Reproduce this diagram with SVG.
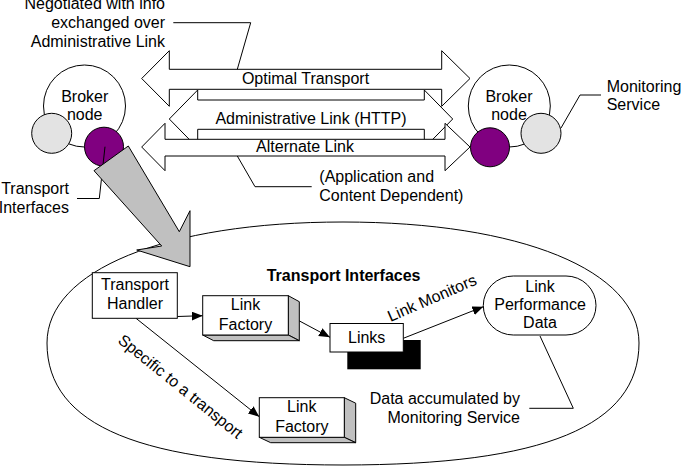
<svg xmlns="http://www.w3.org/2000/svg" width="682" height="470" viewBox="0 0 682 470">
<defs>
<style>
text{font-family:"Liberation Sans",Arial,sans-serif;font-size:16px;fill:#000}
.m{text-anchor:middle}
.e{text-anchor:end}
.b{font-weight:bold}
.ln{fill:none;stroke:#000;stroke-width:1}
.wf{fill:#fff;stroke:#000;stroke-width:1}
.gf{fill:#c0c0c0;stroke:#000;stroke-width:1}
.lg{fill:#e3e3e3;stroke:#000;stroke-width:1}
.pp{fill:#800080;stroke:#000;stroke-width:1}
</style>
<marker id="ah" markerUnits="userSpaceOnUse" markerWidth="12" markerHeight="10" refX="11" refY="4.5" orient="auto">
<path d="M0,0 L11,4.5 L0,9 Z" fill="#000"/>
</marker>
</defs>
<rect width="682" height="470" fill="#fff"/>

<g id="scope-ellipse">
<path class="ln" d="M639,343 C639,426 544.3,465 343,465 C141.7,465 47,426 47,343 C47,270.4 165.4,222 343,222 C520.6,222 639,270.4 639,343 Z"/>
</g>

<g id="double-arrows">
<g id="optimal-transport">
<path class="wf" d="M141.7,78.5 L169.3,50.7 L169.3,69.3 L441.7,69.3 L441.7,50.7 L470,78.5 L441.7,106.3 L441.7,89.3 L169.3,89.3 L169.3,106.3 Z"/>
<text class="m" x="305.5" y="84">Optimal Transport</text>
</g>
<g id="admin-link">
<path class="wf" d="M169.3,119 L197.7,90 L197.7,100 L424.3,100 L424.3,90 L452.7,119 L424.3,148 L424.3,129.3 L197.7,129.3 L197.7,148 Z"/>
<text class="m" x="311" y="124">Administrative Link (HTTP)</text>
</g>
<g id="alternate-link">
<path class="wf" d="M141.7,147 L165,123.3 L165,139.3 L445,139.3 L445,123.3 L470,147 L445,170.7 L445,156 L165,156 L165,170.7 Z"/>
<text class="m" x="305" y="152.3">Alternate Link</text>
</g>
</g>

<g id="broker-left">
<circle cx="84.5" cy="106" r="41" class="wf"/>
<text class="m" x="84.7" y="101.7">Broker</text>
<text class="m" x="84.7" y="120">node</text>
<circle cx="51.7" cy="133.3" r="20" class="lg"/>
<circle cx="104" cy="146.7" r="19.5" class="pp"/>
</g>

<g id="broker-right">
<circle cx="509.3" cy="106" r="41" class="wf"/>
<text class="m" x="509" y="101.7">Broker</text>
<text class="m" x="509" y="120">node</text>
<circle cx="490" cy="147.3" r="19.5" class="pp"/>
<circle cx="541" cy="133.3" r="20" class="lg"/>
</g>

<g id="labels">
<text class="e" x="165" y="8.5">Negotiated with info</text>
<text class="e" x="165" y="27.5">exchanged over</text>
<text class="e" x="165" y="46.7">Administrative Link</text>
<text x="319.3" y="181.7">(Application and</text>
<text x="319.3" y="201">Content Dependent)</text>
<text x="606.7" y="91.7">Monitoring</text>
<text x="606.7" y="110">Service</text>
<text class="e" x="69" y="194.3">Transport</text>
<text class="e" x="69" y="213.3">Interfaces</text>
<text class="b" x="266.7" y="280.7">Transport Interfaces</text>
<text class="e" x="520" y="404">Data accumulated by</text>
<text class="e" x="520" y="422.7">Monitoring Service</text>
</g>

<g id="connectors">
<polyline class="ln" points="173.3,22.7 250.7,22.7 237.3,69.3"/>
<polyline class="ln" points="237.3,156 255,186.7 311.7,186.7"/>
<polyline class="ln" points="561,128 580,95 601,95"/>
<polyline class="ln" points="77,198.5 99.3,198.5 105,146.7"/>
<polyline class="ln" points="540,336 573.3,408.3 529.3,408.3"/>
<line class="ln" x1="177.3" y1="316.5" x2="202.7" y2="315.7" marker-end="url(#ah)"/>
<line class="ln" x1="136" y1="318.3" x2="259.3" y2="416.7" marker-end="url(#ah)"/>
<line class="ln" x1="288.3" y1="315" x2="330" y2="337.3" marker-end="url(#ah)"/>
<line class="ln" x1="403.3" y1="338.3" x2="483.3" y2="306.7" marker-end="url(#ah)"/>
<text transform="translate(117,342) rotate(39)">Specific to a transport</text>
<text transform="translate(390.5,322) rotate(-23.5)">Link Monitors</text>
</g>

<g id="transport-arrow">
<polygon class="gf" points="94,170.7 128.3,146 179.3,231.7 190,210.7 190,266.7 136.7,250 161.7,246"/>
</g>

<g id="transport-handler">
<rect x="92.3" y="272.7" width="85" height="45.6" class="wf"/>
<text class="m" x="135" y="290">Transport</text>
<text class="m" x="135" y="309">Handler</text>
</g>

<g id="link-factory-1">
<polygon class="gf" points="288.3,295.7 299.3,301.7 299.3,340.7 288.3,335"/>
<polygon class="gf" points="202.7,335 213.7,340.7 299.3,340.7 288.3,335"/>
<rect x="202.7" y="295.7" width="85.6" height="39.3" class="wf"/>
<text class="m" x="245.5" y="310">Link</text>
<text class="m" x="245.5" y="330">Factory</text>
</g>

<g id="link-factory-2">
<polygon class="gf" points="344.3,397.7 355.7,403.2 355.7,442.7 344.3,437.3"/>
<polygon class="gf" points="259.3,437.3 270.7,442.7 355.7,442.7 344.3,437.3"/>
<rect x="259.3" y="397.7" width="85" height="39.6" class="wf"/>
<text class="m" x="301.8" y="412.3">Link</text>
<text class="m" x="301.8" y="432.3">Factory</text>
</g>

<g id="links">
<rect x="347.3" y="340" width="73.4" height="29.3" fill="#000"/>
<rect x="330" y="323.5" width="73.3" height="28.5" class="wf"/>
<text class="m" x="366.7" y="343.3">Links</text>
</g>

<g id="link-performance-data">
<rect x="483.3" y="276" width="112.7" height="59" rx="30" ry="29.5" class="wf"/>
<text class="m" x="540" y="291.7">Link</text>
<text class="m" x="540" y="310">Performance</text>
<text class="m" x="540" y="328.3">Data</text>
</g>
</svg>
